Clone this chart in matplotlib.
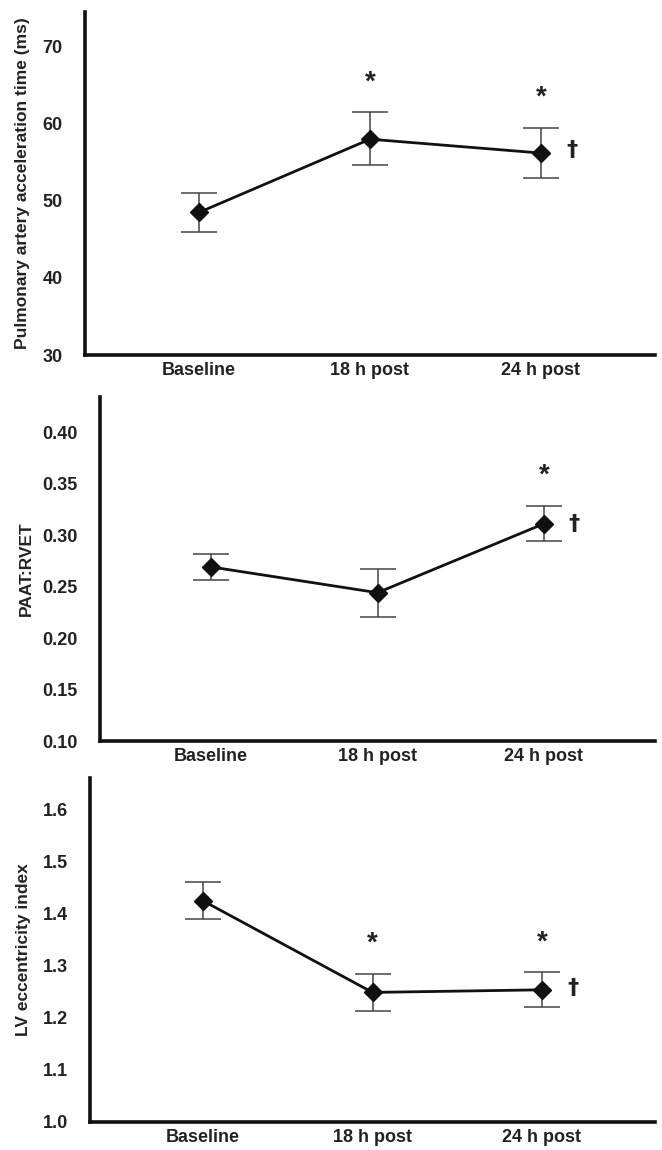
import matplotlib
matplotlib.use("Agg")
import matplotlib.pyplot as plt

categories = ["Baseline", "18 h post", "24 h post"]

paat_mean = [48.5, 58.0, 56.2]
paat_upper = [51.0, 61.5, 59.5]
paat_lower = [46.0, 54.6, 53.0]

ratio_mean = [0.269, 0.244, 0.311]
ratio_upper = [0.282, 0.267, 0.328]
ratio_lower = [0.256, 0.220, 0.2945]

lvei_mean = [1.425, 1.249, 1.254]
lvei_upper = [1.462, 1.285, 1.288]
lvei_lower = [1.390, 1.214, 1.221]

ylabels = ["Pulmonary artery acceleration time (ms)", "PAAT:RVET", "LV eccentricity index"]
yticks_list = [[30, 40, 50, 60, 70],
               [0.10, 0.15, 0.20, 0.25, 0.30, 0.35, 0.40],
               [1.0, 1.1, 1.2, 1.3, 1.4, 1.5, 1.6]]
ytick_fmt = ["{:.0f}", "{:.2f}", "{:.1f}"]

# significance marks: (category index, y value of mark)
star_marks = [[(1, 65.3), (2, 63.4)], [(2, 0.358)], [(1, 1.343), (2, 1.345)]]
dagger_marks = [[(2, 56.6)], [(2, 0.311)], [(2, 1.258)]]

fig = plt.figure(figsize=(6.62, 11.5), dpi=100)
positions = [
    [85/662, 1-355/1150, 570/662, 343/1150],
    [100/662, 1-741/1150, 555/662, 344/1150],
    [90/662, 1-1122/1150, 565/662, 344/1150],
]
ylims = [(30, 74.5), (0.10, 0.434), (1.0, 1.661)]
label_pads = [9, 6, 8]

data = [(paat_mean, paat_upper, paat_lower),
        (ratio_mean, ratio_upper, ratio_lower),
        (lvei_mean, lvei_upper, lvei_lower)]

for i, pos in enumerate(positions):
    ax = fig.add_axes(pos)
    mean, up, lo = data[i]
    x = list(range(len(categories)))
    yerr = [[m - l for m, l in zip(mean, lo)], [u - m for m, u in zip(mean, up)]]
    ax.errorbar(x, mean, yerr=yerr, fmt="none", ecolor="#444444", elinewidth=1.1,
                capsize=13, capthick=1.1, zorder=2)
    ax.plot(x, mean, color="#111111", lw=2.0, marker="D", markersize=9,
            markerfacecolor="#111111", markeredgecolor="#111111", zorder=3)
    ax.set_xlim(-0.667, 2.667)
    ax.set_ylim(*ylims[i])
    ax.set_xticks(x)
    ax.set_xticklabels(categories, fontfamily="Liberation Sans", fontweight="bold", fontsize=13)
    ax.set_yticks(yticks_list[i])
    ax.set_yticklabels([ytick_fmt[i].format(v) for v in yticks_list[i]],
                       fontfamily="Liberation Sans", fontweight="bold", fontsize=13)
    ax.tick_params(axis="both", length=0, pad=5, colors="#222222")
    ax.tick_params(axis="y", pad=16)
    for s in ["top", "right"]:
        ax.spines[s].set_visible(False)
    for s in ["left", "bottom"]:
        ax.spines[s].set_linewidth(2.6)
        ax.spines[s].set_color("#111111")
    ax.set_ylabel(ylabels[i], fontfamily="Liberation Sans", fontweight="bold",
                  fontsize=12.5, color="#222222", labelpad=label_pads[i])
    for (ci, yv) in star_marks[i]:
        ax.text(ci, yv, "*", ha="center", va="center", fontsize=20,
                fontweight="bold", color="#222222", fontfamily="Liberation Sans")
    for (ci, yv) in dagger_marks[i]:
        ax.text(ci + 0.18, yv, "†", ha="center", va="center", fontsize=16,
                fontweight="bold", color="#222222", fontfamily="DejaVu Sans")

fig.savefig("out.png", dpi=100)
